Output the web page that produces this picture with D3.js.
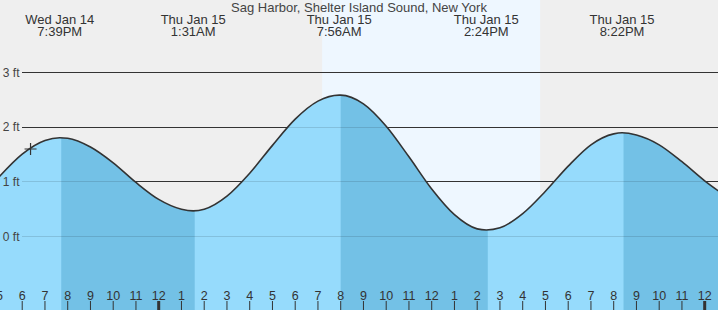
<!DOCTYPE html>
<html><head><meta charset="utf-8">
<script src="https://cdn.jsdelivr.net/npm/d3@7"></script>
<style>body{margin:0;background:#efefef}svg{display:block}text{font-family:"Liberation Sans",Arial,sans-serif}</style>
</head><body>
<svg id="c" width="718" height="310"></svg>
<script>
const title = "Sag Harbor, Shelter Island Sound, New York";
// tide events (high/low)
const eventTimes = ["2026-01-14T19:39","2026-01-15T01:31","2026-01-15T07:56","2026-01-15T14:24","2026-01-15T20:22"];
const eventTypes = ["H","L","H","L","H"];
const eventHeights = [1.80, 0.46, 2.58, 0.11, 1.89];
const eventDay = ["Wed Jan 14","Thu Jan 15","Thu Jan 15","Thu Jan 15","Thu Jan 15"];
const eventClock = ["7:39PM","1:31AM","7:56AM","2:24PM","8:22PM"];
// hourly tide heights (ft), starting 5 PM Wed Jan 14
const hourlyStart = "2026-01-14T17:00";
const hourlyHeights = [1.09,1.50,1.75,1.79,1.63,1.34,0.98,0.67,0.49,0.49,0.73,1.15,1.66,2.14,2.47,2.58,2.42,2.01,1.45,0.86,0.39,0.13,0.15,0.41,0.82,1.28,1.67,1.87,1.85,1.67,1.36,1.01,0.71];
const yTicks = [0,1,2,3];
const daylight = ["2026-01-15T07:11","2026-01-15T16:46"];
const nowTime = "2026-01-14T18:22";
const viewStart = "2026-01-14T17:01:26";
const viewEnd = "2026-01-16T00:35:06";

const W=718,H=310;
const parse = s => new Date(s);
const svg = d3.select("#c");
const x = d3.scaleTime().domain([parse(viewStart),parse(viewEnd)]).range([0,W]);
const y = d3.scaleLinear().domain([0,3]).range([236,72.2]);

const series = hourlyHeights.map((v,i)=>({t:d3.timeHour.offset(parse(hourlyStart),i),v}));
eventTimes.forEach((t,i)=>series.push({t:parse(t),v:eventHeights[i]}));
series.sort((a,b)=>a.t-b.t);

svg.append("rect").attr("width",W).attr("height",H).attr("fill","#efefef");
svg.append("rect").attr("x",x(parse(daylight[0]))).attr("y",0)
  .attr("width",x(parse(daylight[1]))-x(parse(daylight[0]))).attr("height",H).attr("fill","#eef7ff");

const grid = svg.append("g");
yTicks.forEach(v=>{
  grid.append("line").attr("x1",22).attr("x2",W).attr("y1",Math.round(y(v))+0.5).attr("y2",Math.round(y(v))+0.5)
    .attr("stroke","#333").attr("stroke-width",1);
});

const area = d3.area().x(d=>x(d.t)).y0(H).y1(d=>y(d.v)).curve(d3.curveMonotoneX);
const line = d3.line().x(d=>x(d.t)).y(d=>y(d.v)).curve(d3.curveMonotoneX);

svg.append("path").datum(series).attr("d",area).attr("fill","#96dbfc");
// falling segments (high -> low) darker
const defs = svg.append("defs");
const cp = defs.append("clipPath").attr("id","fall");
eventTimes.forEach((t,i)=>{
  if(eventTypes[i]!=="H") return;
  const x0 = x(parse(t))+1.5;
  const x1 = i+1<eventTimes.length ? x(parse(eventTimes[i+1]))+1.5 : W;
  cp.append("rect").attr("x",x0).attr("y",0).attr("width",x1-x0).attr("height",H);
});
svg.append("path").datum(series).attr("d",area).attr("fill","#73c1e6").attr("clip-path","url(#fall)");

// faint grid over fill
const cpa = defs.append("clipPath").attr("id","under");
cpa.append("path").datum(series).attr("d",area);
yTicks.forEach(v=>{
  svg.append("line").attr("x1",22).attr("x2",W).attr("y1",Math.round(y(v))+0.5).attr("y2",Math.round(y(v))+0.5)
    .attr("stroke","rgba(0,0,0,0.12)").attr("clip-path","url(#under)");
  svg.append("text").attr("x",19.5).attr("y",y(v)+4.5).attr("text-anchor","end")
    .attr("font-size",12).attr("fill","#444").text(v+" ft");
});

svg.append("path").datum(series).attr("d",line).attr("fill","none").attr("stroke","#333").attr("stroke-width",1.6);

// now marker
const nt = parse(nowTime);
const nx = x(nt);
const ny = 149;
svg.append("path").attr("d",`M${nx-6},${ny}H${nx+6}M${nx},${ny-6}V${ny+6}`).attr("stroke","#333").attr("stroke-width",1.2);

// hour ticks
const ticks = d3.timeHour.range(d3.timeHour.floor(parse(viewStart)), parse(viewEnd));
const tg = svg.append("g");
ticks.forEach(t=>{
  const tx = x(t);
  const mid = t.getHours()===0;
  tg.append("rect").attr("x",tx-(mid?1.5:0.5)).attr("y",301).attr("width",mid?3:1).attr("height",9).attr("fill","#333");
  tg.append("text").attr("x",tx).attr("y",299.5).attr("text-anchor","middle").attr("font-size",12.5)
    .attr("fill","#333").text(d3.timeFormat("%-I")(t));
});

// event labels
eventTimes.forEach((t,i)=>{
  const ex = x(parse(t));
  svg.append("text").attr("x",ex).attr("y",24).attr("text-anchor","middle").attr("font-size",13).attr("fill","#333").text(eventDay[i]);
  svg.append("text").attr("x",ex).attr("y",36).attr("text-anchor","middle").attr("font-size",13).attr("fill","#333").text(eventClock[i]);
});
svg.append("text").attr("x",W/2).attr("y",12).attr("text-anchor","middle").attr("font-size",13).attr("fill","#444").text(title);
</script>
</body></html>
